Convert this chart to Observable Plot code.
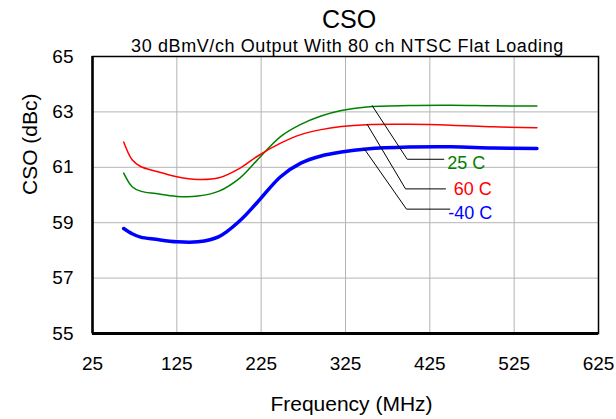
<!DOCTYPE html>
<html><head><meta charset="utf-8">
<script src="https://cdn.jsdelivr.net/npm/d3@7"></script>
<script src="https://cdn.jsdelivr.net/npm/@observablehq/plot@0.6"></script>
<style>
body{margin:0;background:#fff;font-family:"Liberation Sans",Arial,sans-serif;}
#wrap{width:616px;}
.t{text-align:center;color:#000;white-space:nowrap;box-sizing:border-box;width:616px;overflow:visible;}
#title{font-size:25px;height:38px;line-height:38px;padding-left:82px;}
#sub{font-size:18px;height:16px;line-height:16px;padding-left:79px;letter-spacing:0.6px;}
</style></head><body>
<div id="wrap">
<div id="title" class="t"></div>
<div id="sub" class="t"></div>
<div id="chart"></div>
</div>
<script>
const titleText = "CSO";
const subtitleText = "30 dBmV/ch Output With 80 ch NTSC Flat Loading";
const xLabel = "Frequency (MHz)";
const yLabel = "CSO (dBc)";

const xDomain = [25, 625];
const yDomain = [55, 65];
const xTicks = [25, 125, 225, 325, 425, 525, 625];
const yTicks = [55, 57, 59, 61, 63, 65];

const freq   = [62, 72, 82, 100, 125, 150, 175, 200, 220, 248, 272, 296, 320, 350, 400, 450, 500, 552];
const cso25  = [60.79, 60.30, 60.14, 60.05, 59.95, 59.96, 60.14, 60.62, 61.25, 62.11, 62.55, 62.85, 63.05, 63.18, 63.23, 63.24, 63.22, 63.21];
const cso60  = [61.91, 61.27, 61.03, 60.86, 60.66, 60.56, 60.62, 60.97, 61.39, 61.87, 62.18, 62.36, 62.47, 62.54, 62.55, 62.52, 62.46, 62.43];
const csoM40 = [58.79, 58.60, 58.48, 58.40, 58.31, 58.31, 58.50, 59.08, 59.72, 60.66, 61.15, 61.41, 61.55, 61.66, 61.73, 61.74, 61.70, 61.68];

const seriesNames  = ["25 C", "60 C", "-40 C"];
const seriesColors = ["#008000", "#ff0000", "#0000ff"];
const seriesWidths = [1.5, 1.5, 3.5];
const seriesValues = [cso25, cso60, csoM40];

// leader lines (data space): start on curve, elbow, end
const leaderF = [[356.7, 398.2, 441.6], [350.7, 396.2, 443.6], [346.7, 397.3, 448.7]];
const leaderV = [[63.22, 61.29, 61.29], [62.55, 60.22, 60.22], [61.69, 59.49, 59.49]];
const labelF  = [445.6, 453.4, 446.8];
const labelDy = [3.5, 0.5, 4];

document.getElementById("title").textContent = titleText;
document.getElementById("sub").textContent = subtitleText;

const font = "Liberation Sans, Arial, sans-serif";
const marks = [];
marks.push(Plot.ruleX(xTicks.slice(1, -1), {stroke: "#b4b4b4", strokeWidth: 1}));
marks.push(Plot.ruleY(yTicks.slice(1, -1), {stroke: "#b4b4b4", strokeWidth: 1}));
marks.push(Plot.frame({stroke: "#000", strokeWidth: 1.5}));
marks.push(Plot.ruleX([xDomain[0]], {stroke: "#000", strokeWidth: 2.5}));
marks.push(Plot.ruleY([yDomain[0]], {stroke: "#000", strokeWidth: 3}));

seriesNames.forEach((name, k) => {
  const pts = freq.map((f, i) => ({f, v: seriesValues[k][i]}));
  marks.push(Plot.line(pts, {x: "f", y: "v", stroke: seriesColors[k], strokeWidth: seriesWidths[k], curve: "catmull-rom"}));
});
seriesNames.forEach((name, k) => {
  const pts = leaderF[k].map((f, i) => ({f, v: leaderV[k][i]}));
  marks.push(Plot.line(pts, {x: "f", y: "v", stroke: "#000", strokeWidth: 1}));
  marks.push(Plot.text([name], {x: () => labelF[k], y: () => leaderV[k][2], text: d => d, fill: seriesColors[k], fontSize: 18, textAnchor: "start", dy: labelDy[k]}));
});
marks.push(Plot.text([xLabel], {frameAnchor: "bottom", text: d => d, dy: 77, dx: 6, fontSize: 21, fill: "#000"}));
marks.push(Plot.text([yLabel], {frameAnchor: "left", text: d => d, rotate: -90, dx: -62, fontSize: 21, fill: "#000"}));

const chart = Plot.plot({
  width: 616, height: 365,
  marginTop: 2, marginLeft: 92, marginRight: 18, marginBottom: 86,
  style: {fontFamily: font, fontSize: "19px", color: "#000", background: "#fff", overflow: "visible"},
  x: {domain: xDomain, ticks: xTicks, tickFormat: d => String(d), label: null, tickSize: 0, tickPadding: 23},
  y: {domain: yDomain, ticks: yTicks, tickFormat: d => String(d), label: null, tickSize: 0, tickPadding: 19},
  marks
});
document.getElementById("chart").appendChild(chart);
</script>
</body></html>
